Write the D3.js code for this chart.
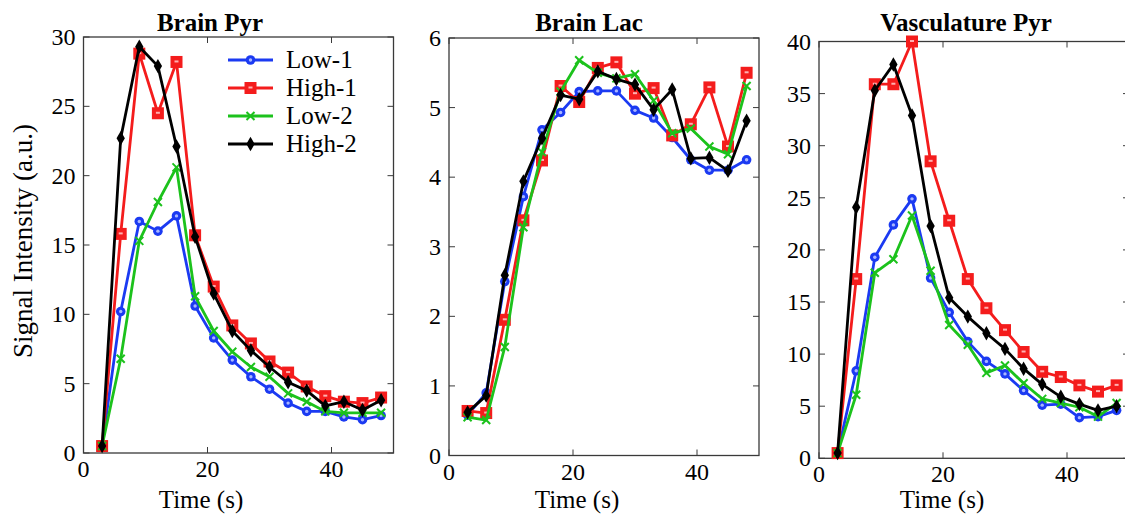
<!DOCTYPE html>
<html>
<head>
<meta charset="utf-8">
<script src="https://cdn.jsdelivr.net/npm/d3@7"></script>
<style>
  body { margin: 0; background: #fff; }
  svg { display: block; font-family: "Liberation Serif", serif; }
</style>
</head>
<body>
<div id="chart"></div>
<script>
// time points (s)
var time = [3, 6, 9, 12, 15, 18, 21, 24, 27, 30, 33, 36, 39, 42, 45, 48];
var seriesNames = ["Low-1", "High-1", "Low-2", "High-2"];
var xTicks = [0, 20, 40];

// Brain Pyr
var pyrLow1  = [0.5, 10.2, 16.7, 16.0, 17.1, 10.6, 8.3, 6.7, 5.5, 4.6, 3.6, 3.0, 3.0, 2.6, 2.4, 2.7];
var pyrHigh1 = [0.5, 15.8, 28.8, 24.5, 28.2, 15.7, 12.0, 9.2, 7.9, 6.6, 5.8, 4.8, 4.1, 3.7, 3.6, 4.0];
var pyrLow2  = [0.5, 6.8, 15.3, 18.1, 20.6, 11.3, 8.8, 7.3, 6.2, 5.5, 4.3, 3.7, 3.0, 2.9, 2.9, 2.9];
var pyrHigh2 = [0.5, 22.7, 29.3, 27.9, 22.1, 15.6, 11.5, 8.8, 7.4, 6.2, 5.1, 4.5, 3.4, 3.7, 3.1, 3.8];
var pyrTicks = [0, 5, 10, 15, 20, 25, 30];

// Brain Lac
var lacLow1  = [0.58, 0.9, 2.5, 3.72, 4.68, 4.93, 5.23, 5.24, 5.24, 4.96, 4.85, 4.57, 4.25, 4.1, 4.1, 4.25];
var lacHigh1 = [0.64, 0.61, 1.95, 3.38, 4.24, 5.31, 5.08, 5.57, 5.65, 5.2, 5.28, 4.6, 4.76, 5.29, 4.44, 5.5];
var lacLow2  = [0.55, 0.51, 1.56, 3.28, 4.36, 5.23, 5.68, 5.5, 5.42, 5.48, 5.1, 4.63, 4.7, 4.44, 4.33, 5.31];
var lacHigh2 = [0.62, 0.86, 2.59, 3.94, 4.56, 5.18, 5.12, 5.52, 5.41, 5.33, 4.97, 5.26, 4.27, 4.28, 4.09, 4.81];
var lacTicks = [0, 1, 2, 3, 4, 5, 6];

// Vasculature Pyr
var vasLow1  = [0.5, 8.4, 19.3, 22.4, 24.9, 17.3, 14.0, 11.2, 9.3, 8.1, 6.5, 5.1, 5.2, 3.9, 4.0, 4.6];
var vasHigh1 = [0.5, 17.2, 35.9, 35.9, 40.0, 28.5, 22.8, 17.2, 14.4, 12.3, 10.2, 8.3, 7.8, 7.0, 6.4, 7.0];
var vasLow2  = [0.5, 6.1, 17.8, 19.1, 23.3, 18.0, 12.8, 10.9, 8.2, 8.9, 7.2, 5.7, 5.3, 4.9, 4.0, 5.3];
var vasHigh2 = [0.5, 24.1, 35.3, 37.8, 32.9, 22.3, 15.4, 13.6, 12.0, 10.5, 8.6, 7.1, 5.9, 5.2, 4.6, 5.0];
var vasTicks = [0, 5, 10, 15, 20, 25, 30, 35, 40];

var colors = { "Low-1": "#1b3af2", "High-1": "#f41c1c", "Low-2": "#1cc21c", "High-2": "#000000" };
var shapes = { "Low-1": "circle", "High-1": "square", "Low-2": "cross", "High-2": "diamond" };

var panels = [
  { title: "Brain Pyr", left: 83.5, top: 37, bottom: 453, ymax: 30, ticks: pyrTicks,
    titleX: 210, labelX: 201,
    series: [pyrLow1, pyrHigh1, pyrLow2, pyrHigh2], legend: true },
  { title: "Brain Lac", left: 449, top: 38, bottom: 455.5, ymax: 6, ticks: lacTicks,
    titleX: 589, labelX: 577,
    series: [lacLow1, lacHigh1, lacLow2, lacHigh2] },
  { title: "Vasculature Pyr", left: 819, top: 41.5, bottom: 458.3, ymax: 40, ticks: vasTicks,
    titleX: 966, labelX: 942,
    series: [vasLow1, vasHigh1, vasLow2, vasHigh2] }
];

var W = 1125, H = 520, panelW = 310;

var svg = d3.select("#chart")
  .append("svg")
  .attr("width", W)
  .attr("height", H);

// marker drawer
function marker(g, name, x, y) {
  var c = colors[name];
  var m = g.append("g").attr("transform", "translate(" + x + "," + y + ")");
  if (shapes[name] == "circle") {
    m.append("circle").attr("r", 4.8).attr("fill", c);
    m.append("circle").attr("r", 1.7).attr("fill", "#a9b6ff");
  } else if (shapes[name] == "square") {
    m.append("rect").attr("x", -6).attr("y", -6).attr("width", 12).attr("height", 12).attr("fill", c);
    m.append("rect").attr("x", -2).attr("y", -1.5).attr("width", 4).attr("height", 2).attr("fill", "#ffb0b0");
  } else if (shapes[name] == "cross") {
    m.append("path").attr("d", "M-4,-4L4,4M-4,4L4,-4")
      .attr("stroke", c).attr("stroke-width", 2).attr("fill", "none");
  } else {
    m.append("path").attr("d", d3.symbol().type(d3.symbolDiamond).size(60)())
      .attr("fill", c);
  }
}

panels.forEach(function (p) {
  var x = d3.scaleLinear().domain([0, 50]).range([p.left, p.left + panelW]);
  var y = d3.scaleLinear().domain([0, p.ymax]).range([p.bottom, p.top]);
  var g = svg.append("g");

  // title
  g.append("text")
    .attr("x", p.titleX).attr("y", 31)
    .attr("text-anchor", "middle")
    .attr("font-size", 25).attr("font-weight", "bold")
    .text(p.title);

  // box
  g.append("rect")
    .attr("x", x(0)).attr("y", y(p.ymax))
    .attr("width", x(50) - x(0)).attr("height", y(0) - y(p.ymax))
    .attr("fill", "none").attr("stroke", "#3a3a3a").attr("stroke-width", 1.3);

  // y axis ticks (inward, left and right) + labels
  p.ticks.forEach(function (t) {
    g.append("line").attr("x1", x(0)).attr("x2", x(0) + 6)
      .attr("y1", y(t)).attr("y2", y(t)).attr("stroke", "#3a3a3a");
    g.append("line").attr("x1", x(50)).attr("x2", x(50) - 6)
      .attr("y1", y(t)).attr("y2", y(t)).attr("stroke", "#3a3a3a");
    g.append("text")
      .attr("x", x(0) - 8).attr("y", y(t) + 8)
      .attr("text-anchor", "end")
      .attr("font-size", 24)
      .text(t);
  });

  // x axis ticks + labels
  xTicks.forEach(function (t) {
    g.append("line").attr("x1", x(t)).attr("x2", x(t))
      .attr("y1", y(0)).attr("y2", y(0) - 6).attr("stroke", "#3a3a3a");
    g.append("line").attr("x1", x(t)).attr("x2", x(t))
      .attr("y1", y(p.ymax)).attr("y2", y(p.ymax) + 6).attr("stroke", "#3a3a3a");
    g.append("text")
      .attr("x", x(t)).attr("y", y(0) + 24)
      .attr("text-anchor", "middle")
      .attr("font-size", 24)
      .text(t);
  });

  g.append("text")
    .attr("x", p.labelX).attr("y", 508)
    .attr("text-anchor", "middle")
    .attr("font-size", 25)
    .text("Time (s)");

  // series
  var line = d3.line()
    .x(function (d) { return x(d[0]); })
    .y(function (d) { return y(d[1]); });

  p.series.forEach(function (vals, i) {
    var name = seriesNames[i];
    var pts = time.map(function (t, j) { return [t, vals[j]]; });
    g.append("path")
      .attr("d", line(pts))
      .attr("fill", "none")
      .attr("stroke", colors[name])
      .attr("stroke-width", 2.8)
      .attr("stroke-linejoin", "round");
    pts.forEach(function (d) { marker(g, name, x(d[0]), y(d[1])); });
  });

  // legend
  if (p.legend) {
    seriesNames.forEach(function (name, i) {
      var ly = 60 + i * 28;
      g.append("line").attr("x1", 228).attr("x2", 273)
        .attr("y1", ly).attr("y2", ly)
        .attr("stroke", colors[name]).attr("stroke-width", 2.8);
      marker(g, name, 250.5, ly);
      g.append("text")
        .attr("x", 286).attr("y", ly + 8)
        .attr("font-size", 25)
        .text(name);
    });
  }
});

// y axis label
svg.append("text")
  .attr("transform", "translate(32,241) rotate(-90)")
  .attr("text-anchor", "middle")
  .attr("font-size", 27)
  .text("Signal Intensity (a.u.)");
</script>
</body>
</html>
